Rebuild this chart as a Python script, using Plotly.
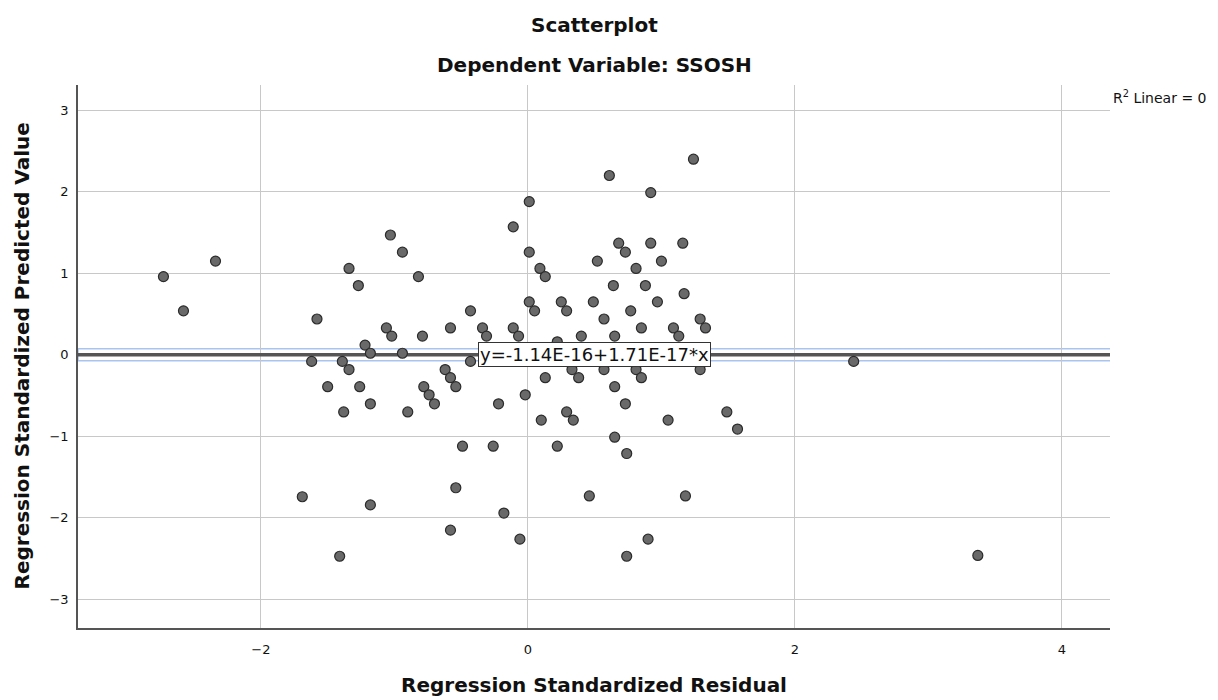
import plotly.graph_objects as go

# Regression Standardized Residual (x) and Predicted Value (y)
resid = [-2.73, -2.58, -2.34, -1.58, -1.62, -1.50, -1.69, -1.41, 0.01, -0.11,
         -1.03, -0.94, 0.01, -1.34, 0.09, -1.27, -0.82, 0.13, 0.01, 0.05,
         0.25, 0.29, 0.49, -0.43, -1.06, -1.02, -0.79, -0.58, -0.34, -0.31,
         -0.11, -0.07, -1.22, -1.18, -0.94, -1.39, 0.22, 0.40, -0.43, 1.24,
         0.61, 0.92, 0.68, 0.73, 0.92, 1.16, 0.52, 1.00, 0.81, 0.64,
         0.88, 1.17, 0.97, 0.77, 0.57, 1.29, 0.85, 1.09, 1.33, 0.65,
         1.13, -1.34, -1.26, -1.38, -1.18, -0.90, -0.78, -0.74, -0.70, -0.62,
         -0.58, -0.54, -0.49, -0.26, -0.54, -1.18, -0.58, -0.18, -0.06, -0.22,
         -0.02, 0.13, 0.10, 0.29, 0.34, 0.22, 0.33, 0.38, 0.57, 0.81,
         0.85, 1.29, 0.65, 0.73, 1.05, 1.49, 1.57, 0.65, 0.74, 0.46,
         1.18, 0.90, 0.74, 2.44, 3.37]
pred = [0.96, 0.54, 1.15, 0.44, -0.08, -0.39, -1.74, -2.47, 1.88, 1.57,
        1.47, 1.26, 1.26, 1.06, 1.06, 0.85, 0.96, 0.96, 0.65, 0.54,
        0.65, 0.54, 0.65, 0.54, 0.33, 0.23, 0.23, 0.33, 0.33, 0.23,
        0.33, 0.23, 0.12, 0.02, 0.02, -0.08, 0.16, 0.23, -0.08, 2.40,
        2.20, 1.99, 1.37, 1.26, 1.37, 1.37, 1.15, 1.15, 1.06, 0.85,
        0.85, 0.75, 0.65, 0.54, 0.44, 0.44, 0.33, 0.33, 0.33, 0.23,
        0.23, -0.18, -0.39, -0.70, -0.60, -0.70, -0.39, -0.49, -0.60, -0.18,
        -0.28, -0.39, -1.12, -1.12, -1.63, -1.84, -2.15, -1.94, -2.26, -0.60,
        -0.49, -0.28, -0.80, -0.70, -0.80, -1.12, -0.18, -0.28, -0.18, -0.18,
        -0.28, -0.18, -0.39, -0.60, -0.80, -0.70, -0.91, -1.01, -1.21, -1.73,
        -1.73, -2.26, -2.47, -0.08, -2.46]

x_ticks = [-2, 0, 2, 4]
y_ticks = [-3, -2, -1, 0, 1, 2, 3]
x_range = [-3.37, 4.36]
y_range = [-3.35, 3.31]

intercept = -1.14e-16
slope = 1.71e-17
equation = "y=-1.14E-16+1.71E-17*x"
r2_label = "R<sup>2</sup> Linear = 0"
title_1 = "Scatterplot"
title_2 = "Dependent Variable: SSOSH"
x_title = "Regression Standardized Residual"
y_title = "Regression Standardized Predicted Value"

FONT = "DejaVu Sans"
INK = "#111111"

fit_y = [intercept + slope * v for v in x_range]

fig = go.Figure()
fig.add_trace(go.Scatter(x=x_range, y=fit_y, mode="lines",
                         line=dict(color="#555555", width=3.5),
                         hoverinfo="skip", showlegend=False))
fig.add_trace(go.Scatter(x=resid, y=pred, mode="markers",
                         marker=dict(size=10, color="#696969",
                                     line=dict(color="#2b2b2b", width=1.2)),
                         showlegend=False))

# selection highlight around the fit line
fig.add_shape(type="rect", xref="x", yref="y", ysizemode="pixel", yanchor=0,
              x0=x_range[0], x1=x_range[1] + 0.04, y0=-6, y1=6,
              line=dict(color="#a9c4ef", width=1.5), layer="below")

fig.add_annotation(x=(x_range[0] + x_range[1]) / 2, y=0, xref="x", yref="y",
                   text=equation, showarrow=False,
                   font=dict(family=FONT, size=18, color=INK),
                   bgcolor="white", bordercolor="#333333", borderwidth=1,
                   borderpad=1)

fig.add_annotation(x=1, y=1, xref="paper", yref="paper", xanchor="left",
                   yanchor="top", xshift=1, yshift=-1, text=r2_label, showarrow=False,
                   font=dict(family=FONT, size=14, color=INK))

fig.add_annotation(x=0.5, y=1, xref="paper", yref="paper", yanchor="middle",
                   yshift=60, text="<b>" + title_1 + "</b>", showarrow=False,
                   font=dict(family=FONT, size=20, color=INK))
fig.add_annotation(x=0.5, y=1, xref="paper", yref="paper", yanchor="middle",
                   yshift=20, text="<b>" + title_2 + "</b>", showarrow=False,
                   font=dict(family=FONT, size=20, color=INK))
fig.add_annotation(x=0.5, y=0, xref="paper", yref="paper", yanchor="middle",
                   yshift=-57, text="<b>" + x_title + "</b>", showarrow=False,
                   font=dict(family=FONT, size=20, color=INK))
fig.add_annotation(x=0, y=0.5, xref="paper", yref="paper", xanchor="center",
                   xshift=-57, text="<b>" + y_title + "</b>", showarrow=False,
                   textangle=-90, font=dict(family=FONT, size=20, color=INK))

fig.update_layout(
    width=1218, height=700,
    margin=dict(l=78, r=108, t=85, b=72),
    paper_bgcolor="white", plot_bgcolor="white",
    font=dict(family=FONT, color=INK),
)
fig.update_xaxes(range=x_range, tickvals=x_ticks, showgrid=True,
                 gridcolor="#c8c8c8", gridwidth=1.2, zeroline=False,
                 showline=True, linecolor="#555555", linewidth=1.5,
                 ticks="", ticklabelstandoff=9, automargin=False,
                 tickfont=dict(family=FONT, size=13, color=INK))
fig.update_yaxes(range=y_range, tickvals=y_ticks, showgrid=True,
                 gridcolor="#c8c8c8", gridwidth=1.2, zeroline=False,
                 showline=True, linecolor="#555555", linewidth=1.5,
                 ticks="", ticklabelstandoff=5, automargin=False,
                 tickfont=dict(family=FONT, size=13, color=INK))

fig.write_html("out.html")
